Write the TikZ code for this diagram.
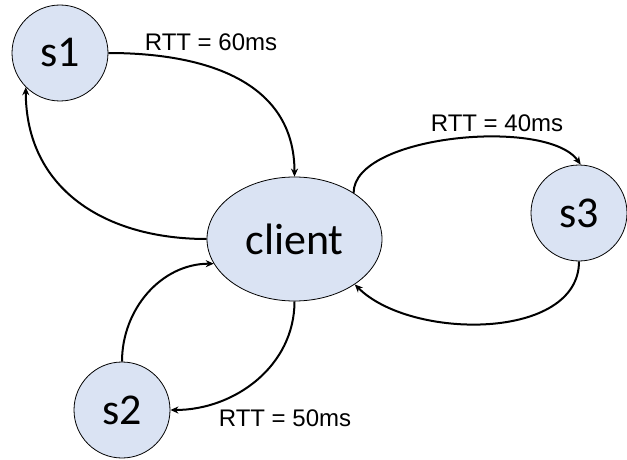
\documentclass[tikz,border=0pt]{standalone}
\usepackage{fontspec}
\setmainfont{Carlito}
\newfontfamily\lblfont{Liberation Sans}
\usetikzlibrary{arrows.meta,shapes.geometric}
\definecolor{nodefill}{HTML}{DAE3F3}
\begin{document}
\begin{tikzpicture}[x=1pt,y=1pt,
  srv/.style={circle,draw=black,line width=0.8pt,fill=nodefill,minimum size=96pt,inner sep=0pt,font=\fontsize{44}{46}\selectfont},
  cli/.style={ellipse,draw=black,line width=0.8pt,fill=nodefill,minimum width=175pt,minimum height=124pt,inner sep=0pt,font=\fontsize{44}{46}\selectfont},
  lbl/.style={font=\lblfont\fontsize{24}{26}\selectfont,inner sep=0pt},
  conn/.style={line width=2pt,-{Stealth[length=8pt,width=7pt]}}]
\useasboundingbox (0,0) rectangle (627,459);
\node[srv] (s1) at (60,406) {s1};
\node[cli] (client) at (294.5,220) {client};
\node[srv] (s3) at (579,246) {s3};
\node[srv] (s2) at (122,49) {s2};
\node[lbl] (l60) at (211,417) {RTT = 60ms};
\node[lbl] (l40) at (497,336) {RTT = 40ms};
\node[lbl] (l50) at (285,41) {RTT = 50ms};
\draw[conn] (s1.east) to[out=0,in=90,looseness=1.1] (client.north);
\draw[conn] (client.west) to[out=180,in=-90,looseness=1.1] (s1.225);
\draw[conn] (client.38) to[out=90,in=125,looseness=0.65] (s3.88);
\draw[conn] (s3.south) to[out=-90,in=-45,looseness=0.9] (client.-37);
\draw[conn] (s2.north) to[out=90,in=180,looseness=1.0] (client.197);
\draw[conn] (client.south) to[out=-90,in=0,looseness=1.0] (s2.east);
\end{tikzpicture}
\end{document}
